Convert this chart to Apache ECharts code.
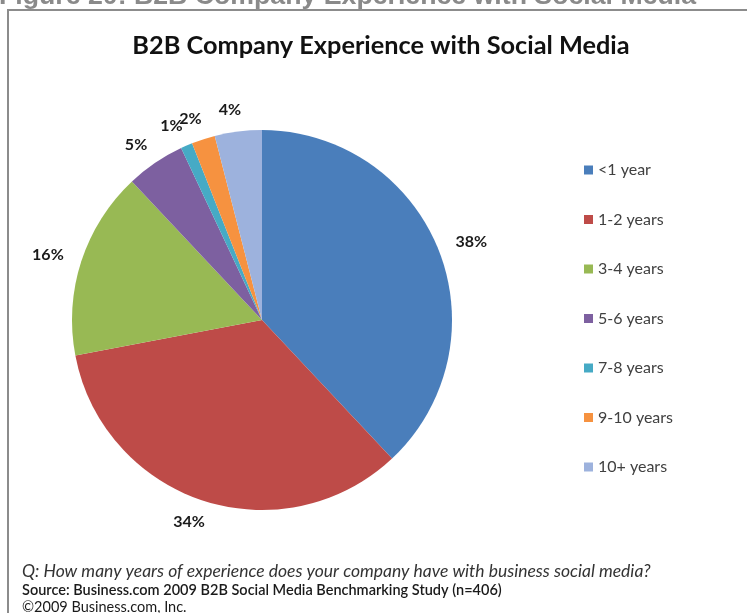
<!DOCTYPE html>
<html>
<head>
<meta charset="utf-8">
<script src="https://cdn.jsdelivr.net/npm/echarts@6/dist/echarts.min.js"></script>
<style>
  html, body { margin: 0; padding: 0; background: #ffffff; }
  #chart { width: 747px; height: 613px; }
</style>
</head>
<body>
<div id="chart"></div>
<script>
// Years of experience with business social media (share of respondents, %)
const categories = ['<1 year', '1-2 years', '3-4 years', '5-6 years', '7-8 years', '9-10 years', '10+ years'];
const shares = [38, 34, 16, 5, 1, 2, 4];
const sliceColors = ['#4A7EBB', '#BE4B48', '#98B954', '#7D60A0', '#46AAC5', '#F69240', '#9DB2DD'];

const figureCaption = 'Figure 20: B2B Company Experience with Social Media';
const chartTitle = 'B2B Company Experience with Social Media';
const questionNote = 'Q: How many years of experience does your company have with business social media?';
const sourceNote = 'Source: Business.com 2009 B2B Social Media Benchmarking Study (n=406)';
const copyrightNote = '\u00A92009 Business.com, Inc.';

const FONT = 'Lato, "Open Sans", sans-serif';

const chart = echarts.init(document.getElementById('chart'), null, { renderer: 'canvas' });

const pieData = categories.map((name, i) => ({
  name: name,
  value: shares[i],
  itemStyle: { color: sliceColors[i] }
}));

// Mid-angle direction of each slice (clockwise from 12 o'clock), used to
// push every outside label so its box sits centred on the radial line.
const total = shares.reduce((a, b) => a + b, 0);
const sliceDirs = [];
shares.reduce((cum, v) => {
  const a = (cum + v / 2) / total * 2 * Math.PI;
  sliceDirs.push([Math.sin(a), -Math.cos(a)]);
  return cum + v;
}, 0);

chart.setOption({
  animation: false,
  backgroundColor: '#ffffff',
  legend: {
    orient: 'vertical',
    left: 579,
    top: 156,
    itemWidth: 9,
    itemHeight: 9,
    itemGap: 31.5,
    icon: 'rect',
    selectedMode: false,
    data: categories,
    textStyle: { fontFamily: FONT, fontSize: 16, color: '#404040', lineHeight: 18 }
  },
  graphic: [
    // frame around the chart
    { type: 'polyline', silent: true,
      shape: { points: [[8, 613], [8, 10], [747, 10]] },
      style: { stroke: '#8c8c8c', lineWidth: 2, fill: null } },
    // figure caption above the frame (mostly cropped by the top edge)
    { type: 'text', silent: true, x: -1, y: 10,
      style: { text: figureCaption, font: 'bold 26.7px "Liberation Sans", Arial, sans-serif',
               fill: '#8a8a8a', verticalAlign: 'bottom', align: 'left' } },
    // chart title
    { type: 'text', silent: true, x: 381, y: 46,
      style: { text: chartTitle, font: 'bold 25.3px ' + FONT, fill: '#111111',
               align: 'center', verticalAlign: 'middle' } },
    // footnotes
    { type: 'text', silent: true, x: 22, y: 571,
      style: { text: questionNote, font: 'italic 17.5px ' + FONT, fill: '#333333',
               align: 'left', verticalAlign: 'middle' } },
    { type: 'text', silent: true, x: 22, y: 590,
      style: { text: sourceNote, font: '600 14.5px ' + FONT, fill: '#1a1a1a',
               align: 'left', verticalAlign: 'middle' } },
    { type: 'text', silent: true, x: 22, y: 607,
      style: { text: copyrightNote, font: '14.5px ' + FONT, fill: '#1a1a1a',
               align: 'left', verticalAlign: 'middle' } }
  ],
  series: [{
    type: 'pie',
    center: [262, 320],
    radius: 190,
    startAngle: 90,
    clockwise: true,
    avoidLabelOverlap: false,
    selectedMode: false,
    data: pieData,
    itemStyle: { borderWidth: 0 },
    label: {
      show: true,
      position: 'outside',
      formatter: '{c}%',
      fontFamily: FONT,
      fontWeight: 'bold',
      fontSize: 16,
      color: '#1a1a1a'
    },
    labelLine: { show: false, length: 14, length2: 0 },
    labelLayout: function (params) {
      const d = sliceDirs[params.dataIndex];
      const hw = params.labelRect.width / 2;
      const hh = params.labelRect.height / 2;
      return {
        hideOverlap: false,
        dx: -Math.sign(d[0]) * hw * (1 - Math.abs(d[0])),
        dy: d[1] * hh
      };
    },
    emphasis: { disabled: true }
  }]
});
</script>
</body>
</html>
